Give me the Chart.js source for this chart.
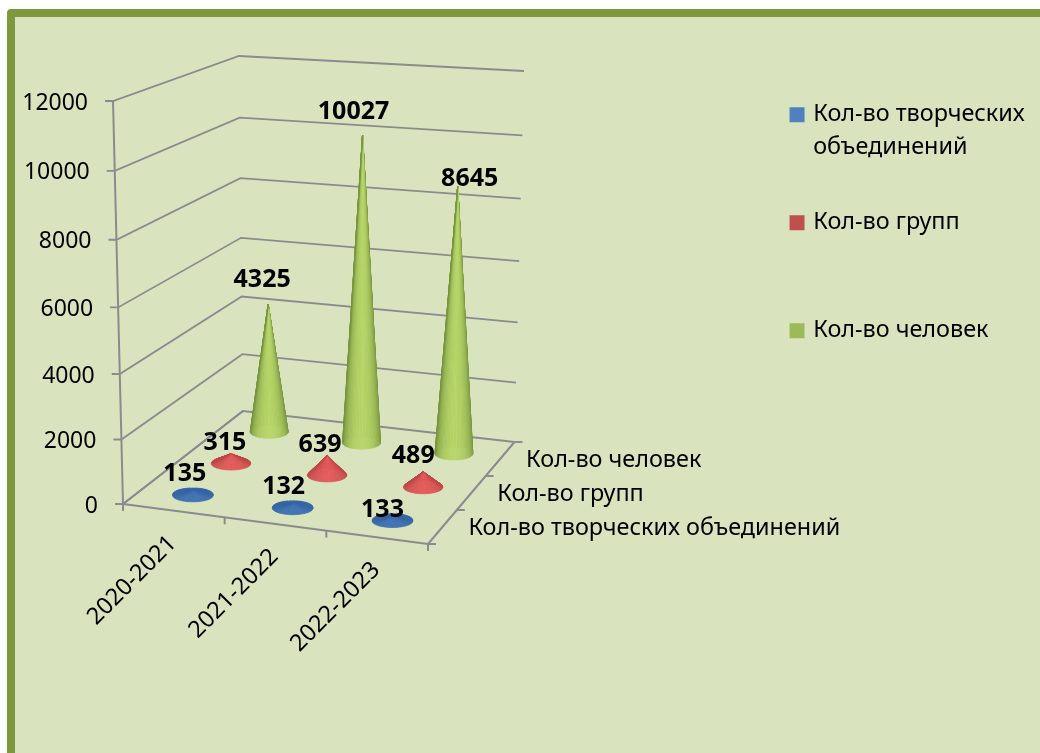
<!DOCTYPE html>
<html>
<head>
<meta charset="utf-8">
<title>Chart</title>
<script src="https://cdn.jsdelivr.net/npm/chart.js@4"></script>
<style>
html, body { margin: 0; padding: 0; background: #fff; overflow: hidden; }
#frame {
    position: absolute; left: 7px; top: 9px; width: 1200px; height: 1000px;
    background: #d9e4be; border: 8px solid #7d983d; border-radius: 4px;
}
#chart { position: absolute; left: 0; top: 0; }
</style>
</head>
<body>
<div id="frame"></div>
<canvas id="chart" width="1040" height="753"></canvas>
<script>
const years = ['2020-2021', '2021-2022', '2022-2023'];
const seriesNames = ['Кол-во творческих объединений', 'Кол-во групп', 'Кол-во человек'];
const legendLines = [['Кол-во творческих', 'объединений'], ['Кол-во групп', ''], ['Кол-во человек', '']];
const unions = [135, 132, 133];
const groups = [315, 639, 489];
const people = [4325, 10027, 8645];
const yTickStep = 2000;
const yMax = 12000;

const fontName = '"Noto Sans", sans-serif';
const gridColor = '#8b8b8f';
const legendColors = ['#4f81bd', '#c0504d', '#9bbb59'];
const coneDark = [[50, 98, 160], [180, 66, 64], [100, 130, 50]];
const coneLight = [[64, 114, 178], [226, 90, 90], [184, 214, 106]];
// small moves of the value labels away from the cone tips, as placed in the original
const labelShift = [
    [[-8, -17], [-9, -17], [-10, -6]],
    [[-6, -11], [-7, -11], [-10, -16]],
    [[-6, -24], [-9, -23], [12, -7]]
];

// corners of the 3d box in page pixels
const box = {
    floor: { fl: [123, 504], fr: [428, 544], bl: [243, 411], br: [514.5, 442] },
    top: { fl: [113, 101], fr: [425, 126], bl: [239, 56], br: [524, 71] }
};

const lerp = (a, b, f) => a + (b - a) * f;

const planePoint = (p, u, v) => {
    const front = [lerp(p.fl[0], p.fr[0], u), lerp(p.fl[1], p.fr[1], u)];
    const back = [lerp(p.bl[0], p.br[0], u), lerp(p.bl[1], p.br[1], u)];
    return [lerp(front[0], back[0], v), lerp(front[1], back[1], v)];
};

// u along years, v along series, t along values, all 0..1
const project = (u, v, t) => {
    const h = t / (t + (1 - t) * 1.05);
    const a = planePoint(box.floor, u, v);
    const b = planePoint(box.top, u, v);
    return { x: lerp(a[0], b[0], h), y: lerp(a[1], b[1], h) };
};

const fracX = (scale, px) => (px - scale.left) / scale.width;
const fracY = (scale, px) => (scale.bottom - px) / scale.height;

const mix = (c1, c2, f) => {
    const c = c1.map((x, i) => Math.round(lerp(x, c2[i], f)));
    return 'rgb(' + c.join(',') + ')';
};

class ConeController extends Chart.BarController {
    draw() {
        const meta = this._cachedMeta;
        const ctx = this.chart.ctx;
        const xs = this.chart.scales.x;
        const ys = this.chart.scales.y;
        const zs = this.chart.scales.z;
        const v = fracY(zs, zs.getPixelForValue(this.index));
        meta.data.forEach(bar => {
            const u = fracX(xs, bar.x);
            const du = bar.width / xs.width / 2;
            const base = project(u, v, 0);
            const tip = project(u, v, fracY(ys, bar.y));
            const rx = (project(u + du, v, 0).x - project(u - du, v, 0).x) / 2;
            drawCone(ctx, base, tip, rx, rx * 0.34, coneDark[this.index], coneLight[this.index]);
        });
    }
}
ConeController.id = 'cone';
ConeController.defaults = Chart.BarController.defaults;
ConeController.overrides = Chart.BarController.overrides;
Chart.register(ConeController);

function drawCone(ctx, base, tip, rx, ry, dark, light) {
    const steps = 72;
    // back half first, then the front half over it
    const order = [];
    for (let i = steps / 2; i < steps; i++) order.push(i);
    for (let i = 0; i < steps / 2; i++) order.push(i);
    ctx.save();
    ctx.lineWidth = 0.6;
    order.forEach(i => {
        const a0 = i / steps * Math.PI * 2;
        const a1 = (i + 1) / steps * Math.PI * 2;
        const s = Math.sin((a0 + a1) / 2);
        const shade = s > 0 ? 0.2 + 0.8 * Math.pow(s, 1.2) : 0.2;
        const col = mix(dark, light, shade);
        ctx.fillStyle = col;
        ctx.strokeStyle = col;
        ctx.beginPath();
        ctx.moveTo(tip.x, tip.y);
        ctx.lineTo(base.x + Math.cos(a0) * rx, base.y + Math.sin(a0) * ry);
        ctx.lineTo(base.x + Math.cos(a1) * rx, base.y + Math.sin(a1) * ry);
        ctx.closePath();
        ctx.fill();
        ctx.stroke();
    });
    ctx.restore();
}

const line = (ctx, a, b) => {
    ctx.beginPath();
    ctx.moveTo(a.x, a.y);
    ctx.lineTo(b.x, b.y);
    ctx.stroke();
};

const placeLabel = (item, x, y, align) => {
    item.options.translation = [x, y];
    item.options.textAlign = align;
    item.options.textBaseline = 'middle';
    item.textOffset = 0;
};

const boxPlugin = {
    id: 'box3d',
    beforeDraw(chart) {
        // move the axis labels of the library onto the slanted edges
        const { x, y, z } = chart.scales;
        y.getLabelItems().forEach((item, i) => {
            const p = project(0, 0, fracY(y, y.getPixelForTick(i)));
            placeLabel(item, p.x - 25, p.y + 2, 'right');
        });
        x.getLabelItems().forEach((item, i) => {
            const p = project(fracX(x, x.getPixelForTick(i)), 0, 0);
            placeLabel(item, p.x - 1, p.y + 29, 'right');
        });
        z.getLabelItems().forEach((item, i) => {
            const p = project(1, fracY(z, z.getPixelForTick(i)), 0);
            placeLabel(item, p.x + 26, p.y + 1, 'left');
        });
    },
    beforeDatasetsDraw(chart) {
        const { x, y, z } = chart.scales;
        const ctx = chart.ctx;
        ctx.save();
        ctx.strokeStyle = gridColor;
        ctx.lineWidth = 1.8;
        y.ticks.forEach(tick => {
            const t = fracY(y, y.getPixelForValue(tick.value));
            const a = project(0, 0, t), b = project(0, 1, t), c = project(1, 1, t);
            ctx.beginPath();
            ctx.moveTo(a.x - 8, a.y);
            ctx.lineTo(a.x, a.y);
            ctx.lineTo(b.x, b.y);
            ctx.lineTo(c.x, c.y);
            ctx.stroke();
        });
        ctx.lineWidth = 2;
        line(ctx, project(0, 0, 0), project(0, 0, 1));
        line(ctx, project(0, 0, 0), project(1, 0, 0));
        line(ctx, project(1, 0, 0), project(1, 1, 0));
        line(ctx, project(0, 0, 0), project(0, 1, 0));
        for (let i = 0; i <= x.ticks.length; i++) {
            const p = project(i / x.ticks.length, 0, 0);
            line(ctx, p, { x: p.x, y: p.y + 7 });
        }
        for (let i = 0; i <= z.ticks.length; i++) {
            const p = project(1, i / z.ticks.length, 0);
            line(ctx, p, { x: p.x + 8, y: p.y });
        }
        ctx.restore();
    },
    afterDatasetsDraw(chart) {
        const { x, y, z } = chart.scales;
        const ctx = chart.ctx;
        ctx.save();
        ctx.font = 'bold 25px ' + fontName;
        ctx.fillStyle = '#000';
        ctx.textAlign = 'center';
        ctx.textBaseline = 'middle';
        chart.data.datasets.forEach((ds, i) => {
            const v = fracY(z, z.getPixelForValue(i));
            chart.getDatasetMeta(i).data.forEach((bar, j) => {
                const p = project(fracX(x, bar.x), v, fracY(y, bar.y));
                ctx.fillText(ds.data[j], p.x + labelShift[i][j][0], p.y + labelShift[i][j][1]);
            });
        });
        ctx.restore();
    }
};

const makeDataset = (i, values) => ({
    label: seriesNames[i],
    data: values,
    backgroundColor: legendColors[i],
    grouped: false,
    clip: false,
    barPercentage: 0.41,
    categoryPercentage: 1
});

new Chart(document.getElementById('chart'), {
    type: 'cone',
    data: {
        labels: years,
        datasets: [makeDataset(0, unions), makeDataset(1, groups), makeDataset(2, people)]
    },
    plugins: [boxPlugin],
    options: {
        responsive: false,
        animation: false,
        layout: { padding: { top: 61, right: 5.25, bottom: 0, left: 0 } },
        scales: {
            x: {
                grid: { display: false },
                border: { display: false },
                afterFit: s => { s.height = 40; },
                ticks: {
                    autoSkip: false, minRotation: 45, maxRotation: 45, color: '#000', mirror: true,
                    font: { family: fontName, size: 23.5 }
                }
            },
            y: {
                min: 0,
                max: yMax,
                grid: { display: false },
                border: { display: false },
                afterFit: s => { s.width = 10; },
                ticks: {
                    stepSize: yTickStep, color: '#000', mirror: true,
                    font: { family: fontName, size: 23 },
                    callback: value => String(value)
                }
            },
            z: {
                type: 'category',
                axis: 'y',
                position: 'right',
                labels: seriesNames,
                reverse: true,
                offset: true,
                grid: { display: false },
                border: { display: false },
                afterFit: s => { s.width = 10; },
                ticks: { autoSkip: false, color: '#000', mirror: true, font: { family: fontName, size: 23.4 } }
            }
        },
        plugins: {
            title: { display: false },
            tooltip: { enabled: false },
            legend: {
                position: 'right',
                align: 'start',
                maxWidth: 500,
                labels: {
                    color: '#000',
                    // small box with a thick stroke: 15px square close to the text
                    boxWidth: 9,
                    boxHeight: 9,
                    padding: 42,
                    font: { family: fontName, size: 23.4, lineHeight: 33 / 23.4 },
                    generateLabels: c => Chart.defaults.plugins.legend.labels.generateLabels(c)
                        .map((item, i) => Object.assign(item, {
                            text: legendLines[i],
                            strokeStyle: legendColors[i],
                            lineWidth: 6
                        }))
                }
            }
        }
    }
});
</script>
</body>
</html>
